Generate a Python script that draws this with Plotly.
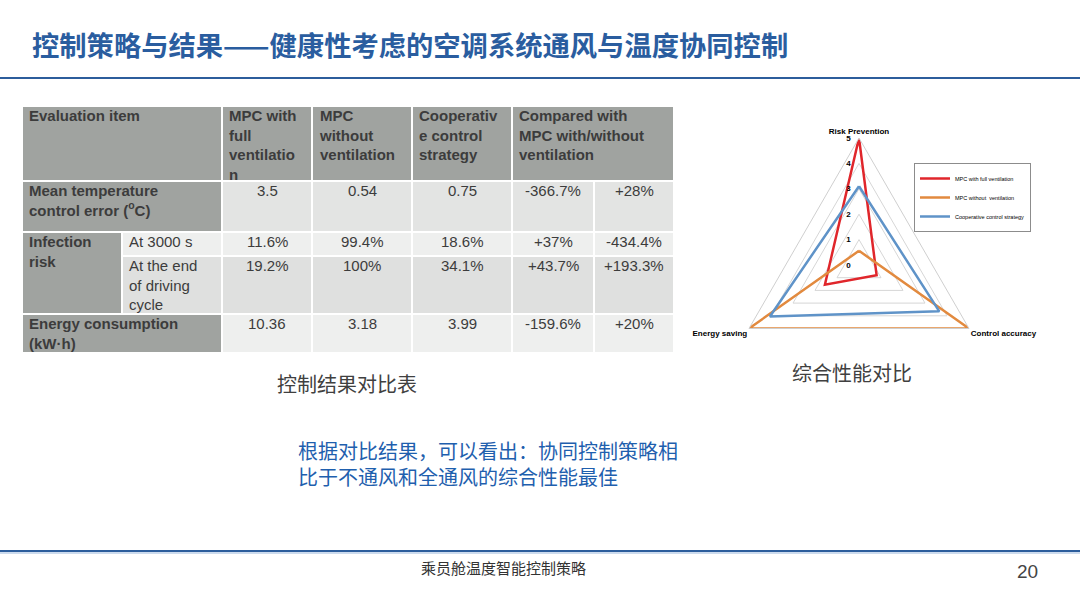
import plotly.graph_objects as go

# ---- table contents ----
header = ["Evaluation item", "MPC with<br>full<br>ventilatio<br>n", "MPC<br>without<br>ventilation",
          "Cooperativ<br>e control<br>strategy", "Compared with<br>MPC with/without<br>ventilation"]
row_items = ["Mean temperature<br>control error (<sup>o</sup>C)", "Infection<br>risk",
             "Energy consumption<br>(kW·h)"]
sub_items = ["At 3000 s", "At the end<br>of driving<br>cycle"]
full_vent = ["3.5", "11.6%", "19.2%", "10.36"]
no_vent = ["0.54", "99.4%", "100%", "3.18"]
coop = ["0.75", "18.6%", "34.1%", "3.99"]
vs_full = ["-366.7%", "+37%", "+43.7%", "-159.6%"]
vs_none = ["+28%", "-434.4%", "+193.3%", "+20%"]

# ---- radar values ----
radar_axes = ["Risk Prevention", "Control accuracy", "Energy saving"]
radar_full = [5, 0.8, 1.55]
radar_none = [0.56, 5, 5]
radar_coop = [3.1, 3.65, 4.05]
radar_names = ["MPC with full ventilation", "MPC without  ventilation", "Cooperative control strategy"]

# ---- slide texts ----
title = "控制策略与结果——健康性考虑的空调系统通风与温度协同控制"
table_caption = "控制结果对比表"
radar_caption = "综合性能对比"
summary = ["根据对比结果，可以看出：协同控制策略相", "比于不通风和全通风的综合性能最佳"]
footer = "乘员舱温度智能控制策略"
page_no = "20"

W, H = 1080, 607
col_x = [22, 122, 222, 312, 412, 512, 594, 674]
row_y = [106, 181, 232, 256, 314, 353]
HEAD = "#a0a3a0"
LIGHT = "#eeefee"
MID = "#e3e4e3"
DARK = "#dfe0df"
TXT = "#3c3c3c"

fig = go.Figure()
shapes = []
annots = []


def cell(c0, c1, r0, r1, fill, text="", bold=False, align="center"):
    shapes.append(dict(type="rect", xref="x", yref="y", x0=col_x[c0], x1=col_x[c1],
                       y0=row_y[r0], y1=row_y[r1], fillcolor=fill,
                       line=dict(color="white", width=2), layer="below"))
    if text:
        x = col_x[c0] + 5 if align == "left" else (col_x[c0] + col_x[c1]) / 2
        annots.append(dict(x=x, y=row_y[r0] - 1, xref="x", yref="y", text=text, showarrow=False,
                           xanchor="left" if align == "left" else "center", yanchor="top",
                           align=align,
                           font=dict(family="Liberation Sans, Arial", size=15, color=TXT,
                                     weight="bold" if bold else "normal")))


# header
cell(0, 2, 0, 1, HEAD, header[0], True, "left")
cell(2, 3, 0, 1, HEAD, header[1], True, "left")
cell(3, 4, 0, 1, HEAD, header[2], True, "left")
cell(4, 5, 0, 1, HEAD, header[3], True, "left")
cell(5, 7, 0, 1, HEAD, header[4], True, "left")
# row labels
cell(0, 2, 1, 2, HEAD, row_items[0], True, "left")
cell(0, 1, 2, 4, HEAD, row_items[1], True, "left")
cell(0, 2, 4, 5, HEAD, row_items[2], True, "left")
cell(1, 2, 2, 3, LIGHT, sub_items[0], False, "left")
cell(1, 2, 3, 4, DARK, sub_items[1], False, "left")
# values
fills = [MID, LIGHT, DARK, LIGHT]
for i in range(4):
    for j, col in enumerate([full_vent, no_vent, coop, vs_full, vs_none]):
        cell(2 + j, 3 + j, 1 + i, 2 + i, fills[i], col[i])

# slide decoration lines
shapes.append(dict(type="line", xref="x", yref="y", x0=0, x1=W, y0=78, y1=78,
                   line=dict(color="#2c5d9c", width=2)))
shapes.append(dict(type="line", xref="x", yref="y", x0=0, x1=W, y0=551, y1=551,
                   line=dict(color="#2c5d9c", width=2)))
shapes.append(dict(type="line", xref="x", yref="y", x0=0, x1=W, y0=553, y1=553,
                   line=dict(color="#9ab7dc", width=1)))

CJK = "Noto Sans CJK SC"
annots.append(dict(x=30, y=44, xref="x", yref="y", text=title, showarrow=False, xanchor="left",
                   yanchor="middle", font=dict(family=CJK, size=27.3, color="#2a5d9f", weight="bold")))
annots.append(dict(x=347, y=383, xref="x", yref="y", text=table_caption, showarrow=False,
                   font=dict(family=CJK, size=20, color="#404040")))
annots.append(dict(x=852, y=372, xref="x", yref="y", text=radar_caption, showarrow=False,
                   font=dict(family=CJK, size=20, color="#404040")))
annots.append(dict(x=296, y=463, xref="x", yref="y", text="<br>".join(summary), showarrow=False,
                   xanchor="left", align="left", font=dict(family=CJK, size=20, color="#1f5fae")))
annots.append(dict(x=503, y=567, xref="x", yref="y", text=footer, showarrow=False,
                   font=dict(family=CJK, size=15, color="#333333")))
annots.append(dict(x=1027, y=571, xref="x", yref="y", text=page_no, showarrow=False,
                   font=dict(family="Liberation Sans Narrow, Arial", size=19, color="#444444")))

# radar
for name, vals, color in zip(radar_names, [radar_full, radar_none, radar_coop],
                             ["#e0262b", "#e28a3f", "#5f93c8"]):
    fig.add_trace(go.Scatterpolar(r=vals + vals[:1], theta=radar_axes + radar_axes[:1],
                                  mode="lines", name=name, cliponaxis=False,
                                  line=dict(color=color, width=2.5)))

cx, cy, rad = 859, 265, 127
fig.update_layout(
    width=W, height=H, margin=dict(l=0, r=0, t=0, b=0),
    paper_bgcolor="white", plot_bgcolor="white",
    xaxis=dict(range=[0, W], visible=False, fixedrange=True, domain=[0, 1]),
    yaxis=dict(range=[H, 0], visible=False, fixedrange=True, domain=[0, 1]),
    shapes=shapes, annotations=annots,
    polar=dict(
        domain=dict(x=[(cx - rad) / W, (cx + rad) / W], y=[1 - (cy + rad) / H, 1 - (cy - rad) / H]),
        bgcolor="white", gridshape="linear",
        angularaxis=dict(direction="clockwise", rotation=90, showgrid=False, showline=True,
                         linecolor="#cfcfcf", linewidth=1, ticks="",
                         tickfont=dict(family="Liberation Sans, Arial", size=8, color="black",
                                       weight="bold")),
        radialaxis=dict(range=[0, 5], tickvals=[0, 1, 2, 3, 4, 5], showline=False,
                        gridcolor="#d6d6d6", angle=90, tickangle=90,
                        ticks="outside", ticklen=5, tickcolor="rgba(0,0,0,0)",
                        side="counterclockwise",
                        tickfont=dict(family="Liberation Sans, Arial", size=8, color="black",
                                      weight="bold")),
    ),
    legend=dict(x=914 / W, y=1 - 163 / H, xanchor="left", yanchor="top",
                font=dict(family="Liberation Sans Narrow, Arial", size=5.5, color="black"),
                bordercolor="#8c8c8c", borderwidth=1, bgcolor="white", itemwidth=30),
)
# keep an empty cartesian trace so the hidden axes exist
fig.add_trace(go.Scatter(x=[], y=[], showlegend=False))

fig.write_html("out.html", config={"displayModeBar": False},
               post_script="document.body.style.margin='0';")
